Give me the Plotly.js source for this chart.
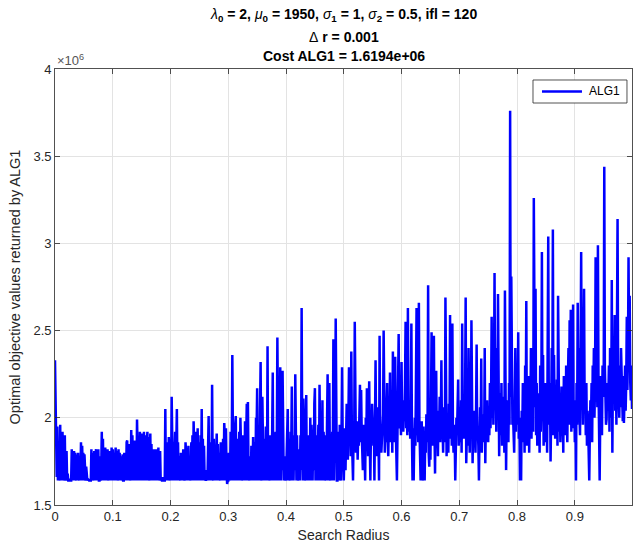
<!DOCTYPE html>
<html>
<head>
<meta charset="utf-8">
<script src="https://cdn.plot.ly/plotly-3.0.1.min.js"></script>
<style>
  html, body { margin: 0; padding: 0; background: #ffffff; }
  #chart { width: 633px; height: 546px; }
</style>
</head>
<body>
<div id="chart"></div>
<script>
// Search radius step
const dr = 0.001;

// Optimal objective values returned by ALG1 (units of 1e6), one per radius step 0.000 ... 0.999
const alg1Values = [
// 0.00
2.33,2.05,1.78,1.66,1.95,1.64,1.80,1.64,1.70,1.96,
1.64,1.88,1.64,1.92,1.75,1.64,1.66,1.90,1.64,1.72,
1.81,1.64,1.68,1.64,1.64,1.65,1.64,1.64,1.64,1.82,
1.64,1.78,1.66,1.81,1.64,1.80,1.70,1.64,1.79,1.64,
1.80,1.67,1.64,1.78,1.64,1.86,1.64,1.84,1.70,1.80,
// 0.05
1.64,1.79,1.66,1.64,1.72,1.64,1.64,1.65,1.64,1.64,
1.64,1.64,1.64,1.82,1.64,1.80,1.70,1.64,1.81,1.64,
1.76,1.82,1.64,1.80,1.66,1.82,1.64,1.64,1.78,1.64,
1.70,1.92,1.64,1.88,1.64,1.75,1.64,1.83,1.66,1.80,
1.64,1.82,1.70,1.64,1.81,1.64,1.78,1.64,1.83,1.66,
// 0.10
1.82,1.64,1.80,1.64,1.76,1.83,1.64,1.81,1.64,1.72,
1.82,1.64,1.80,1.64,1.78,1.64,1.70,1.79,1.64,1.64,
1.80,1.64,1.76,1.64,1.86,1.87,1.64,1.80,1.64,1.85,
1.70,1.64,1.93,1.64,1.90,1.64,1.78,1.66,1.87,1.64,
1.83,1.64,1.99,1.72,1.64,1.88,1.64,1.92,1.68,1.64,
// 0.15
1.91,1.64,1.88,1.64,1.92,1.70,1.64,1.90,1.64,1.86,
1.92,1.64,1.89,1.66,1.64,1.91,1.64,1.85,1.64,1.76,
1.64,1.82,1.64,1.80,1.70,1.82,1.64,1.78,1.64,1.83,
1.64,1.66,1.81,1.64,1.65,1.64,1.64,1.66,1.64,1.64,
1.64,2.05,1.64,1.86,1.66,1.85,1.64,1.89,1.70,1.64,
// 0.20
1.88,1.64,2.12,1.70,1.64,1.86,1.64,1.80,1.92,1.64,
1.84,2.05,1.64,1.86,1.64,1.78,1.70,1.64,1.80,1.64,
1.76,1.64,1.82,1.64,1.72,1.64,1.86,1.80,1.64,1.76,
1.64,1.84,1.64,1.78,1.66,1.64,1.86,1.64,1.90,1.64,
1.98,1.72,1.64,1.92,1.64,1.88,1.66,1.94,1.64,1.84,
// 0.25
1.86,1.64,1.90,1.70,2.05,1.64,1.88,1.64,1.84,1.66,
1.64,1.64,1.65,1.70,1.64,1.92,2.01,1.64,1.86,1.64,
1.80,1.64,2.19,1.72,1.64,1.88,1.64,1.82,1.64,1.78,
1.91,1.64,1.85,1.64,1.80,1.72,1.64,1.86,1.64,1.82,
1.66,1.88,1.64,1.97,1.90,1.64,1.94,1.70,1.62,1.64,
// 0.30
1.64,1.80,1.70,1.64,1.92,1.64,1.80,2.36,1.90,1.64,
1.86,1.64,1.96,2.01,1.64,1.88,1.66,1.80,1.64,1.92,
1.64,2.00,1.84,1.64,1.70,1.90,1.64,1.86,1.64,1.98,
1.64,2.02,2.08,1.64,2.09,1.70,1.64,1.64,1.78,1.64,
1.84,1.72,1.64,1.89,1.64,1.86,1.68,1.64,2.00,1.90,
// 0.35
2.17,1.64,1.90,1.80,1.64,2.05,2.32,1.72,1.64,2.12,
1.64,1.64,1.88,1.70,1.64,1.95,1.84,1.64,2.41,1.64,
1.86,1.70,1.64,1.90,1.64,1.80,1.92,2.26,1.64,1.86,
1.64,1.80,1.92,1.64,1.84,2.46,1.70,1.64,1.90,1.84,
2.29,1.64,1.86,1.70,2.27,1.64,1.64,1.78,1.64,1.66,
// 0.40
1.64,1.84,1.90,2.05,1.64,1.88,1.72,1.64,1.92,1.80,
2.18,1.64,1.90,1.64,1.86,1.70,2.25,2.00,1.64,1.90,
1.64,1.70,1.64,1.82,1.64,1.90,1.70,2.63,1.92,1.64,
2.11,1.86,1.64,1.72,1.90,2.13,1.64,1.80,1.90,1.64,
1.84,1.70,2.00,1.64,1.96,1.84,1.64,1.90,1.70,2.08,
// 0.45
2.17,1.64,1.90,1.86,1.64,1.80,1.96,1.64,2.19,1.88,
1.64,1.84,1.70,2.10,1.64,1.92,1.84,1.64,1.70,1.90,
1.64,1.98,2.25,1.64,1.88,2.20,1.70,1.64,1.86,1.64,
1.92,1.80,2.45,1.64,1.90,1.86,2.57,1.70,1.64,1.64,
1.82,1.92,1.64,1.96,1.70,1.64,1.88,2.29,1.90,1.64,
// 0.50
1.64,1.80,1.94,1.70,1.88,2.08,1.90,1.76,2.00,2.29,
1.84,1.96,1.78,2.38,1.90,1.80,1.64,1.92,1.86,2.55,
1.96,1.80,1.87,1.98,1.76,1.92,1.84,2.04,2.19,1.86,
2.16,1.92,1.80,1.70,1.90,1.96,1.80,1.64,2.00,1.84,
2.17,1.92,1.78,1.96,2.21,1.86,1.64,1.92,1.84,2.08,
// 0.55
1.92,1.86,2.00,1.64,1.96,2.33,1.90,1.78,1.94,2.06,
1.90,1.64,2.47,1.86,1.94,1.80,1.88,1.96,2.02,2.50,
1.90,1.80,1.96,1.86,2.04,2.20,1.88,1.78,1.98,1.92,
2.26,1.86,1.94,2.08,1.80,2.38,1.92,2.00,1.86,2.35,
1.94,1.80,1.64,1.92,2.10,2.48,1.96,1.94,2.02,1.90,
// 0.60
2.32,1.96,2.10,1.92,2.04,1.98,2.20,2.55,1.94,2.06,
1.90,2.63,2.00,1.92,2.10,1.88,1.98,2.54,1.90,1.64,
1.94,1.64,1.88,2.00,1.84,2.10,2.63,1.90,1.96,1.86,
2.66,1.94,1.80,1.64,1.92,1.98,1.64,1.70,1.95,1.64,
1.64,1.90,1.80,2.02,1.86,1.94,2.76,1.80,1.72,2.00,
// 0.65
1.76,2.10,2.49,1.90,1.84,2.00,2.47,1.92,1.68,2.10,
2.27,1.84,1.96,1.78,2.04,1.90,2.12,1.86,2.00,2.33,
1.88,1.96,1.80,2.06,1.94,1.86,2.69,1.92,1.78,2.00,
1.86,1.80,2.08,1.94,2.59,1.88,2.02,1.84,2.54,1.92,
1.80,1.96,1.88,1.64,1.86,2.00,1.90,2.02,2.22,1.84,
// 0.70
1.92,2.06,1.86,2.10,1.80,2.54,1.94,2.00,1.88,1.96,
2.12,2.69,1.74,1.90,2.00,1.84,2.40,1.96,1.80,2.06,
1.88,2.56,1.92,1.74,1.98,1.86,2.04,1.90,1.80,2.02,
2.42,1.88,1.94,1.84,1.64,1.92,2.06,1.86,2.34,1.80,
1.96,1.90,2.02,1.86,2.40,1.74,1.98,1.88,2.10,1.92,
// 0.75
1.86,2.04,1.90,2.20,1.94,2.10,2.58,2.00,2.30,1.96,
2.18,2.83,2.06,2.40,1.92,2.28,2.10,2.71,1.96,1.78,
2.14,2.02,1.90,2.20,1.84,2.06,1.94,2.12,1.80,2.73,
1.98,1.70,2.04,1.92,2.10,1.86,2.20,1.96,3.76,2.12,
2.81,2.30,1.96,2.02,1.84,1.80,2.10,2.40,1.92,2.26,
// 0.80
1.96,2.10,2.49,1.88,2.00,1.64,1.90,1.64,2.04,1.86,
2.20,1.94,2.10,1.80,2.30,2.00,2.67,1.84,2.06,1.92,
2.24,1.80,2.10,1.96,2.40,1.88,2.16,2.00,1.92,3.26,
2.30,2.06,2.74,1.90,2.20,1.84,2.02,1.96,2.14,1.80,
2.30,1.92,2.10,2.95,1.98,2.36,1.84,2.06,1.94,2.20,
// 0.85
1.86,2.10,1.80,2.30,3.04,2.04,1.96,2.20,1.75,2.00,
2.40,2.12,3.08,1.90,2.36,2.02,1.88,2.14,1.96,2.22,
1.84,2.70,2.06,1.92,2.10,1.86,2.00,2.18,1.94,2.08,
1.80,2.24,1.98,2.12,1.90,2.30,2.02,1.86,2.20,2.40,
1.96,2.56,2.10,2.62,1.92,2.30,2.08,2.65,1.94,2.10,
// 0.90
1.86,2.04,1.64,2.20,1.96,2.66,2.10,2.40,2.02,1.90,
2.36,2.95,2.10,2.24,1.96,2.30,2.74,2.06,2.16,1.90,
2.20,1.84,2.04,1.96,1.80,1.64,1.92,2.10,1.98,2.20,
1.86,2.30,2.06,2.40,2.00,2.20,2.92,2.16,2.30,2.06,
2.99,2.20,1.92,1.64,2.00,2.24,2.10,1.90,2.30,2.12,
// 0.95
2.20,3.44,2.30,2.10,1.96,1.99,2.20,2.04,2.10,2.30,
1.92,2.40,2.16,2.00,2.79,1.80,2.30,2.10,2.20,2.59,
2.04,2.30,1.96,2.40,3.14,2.20,2.10,2.00,2.30,2.06,
2.40,2.20,2.16,1.98,2.24,1.97,2.10,2.30,2.04,2.20,
2.58,2.16,2.36,2.92,2.40,2.70,2.20,2.10,2.30,2.05
];

const searchRadius = alg1Values.map((_, i) => Math.round(i * 1000 * dr) / 1000);

const xTickVals = [0, 0.1, 0.2, 0.3, 0.4, 0.5, 0.6, 0.7, 0.8, 0.9];
const xTickText = ['0', '0.1', '0.2', '0.3', '0.4', '0.5', '0.6', '0.7', '0.8', '0.9'];
const yTickVals = [1.5, 2, 2.5, 3, 3.5, 4];
const yTickText = ['1.5', '2', '2.5', '3', '3.5', '4'];
const seriesName = 'ALG1';

const FONT = 'Liberation Sans, Arial, Helvetica, sans-serif';
const INK = '#262626';
const BLUE = '#0000ff';
const g = s => '<span style="font-weight:normal"><i>' + s + '</i></span>';

const trace = {
  x: searchRadius,
  y: alg1Values,
  type: 'scatter',
  mode: 'lines',
  name: seriesName,
  showlegend: false,
  line: { color: BLUE, width: 2.5 }
};

// legend box geometry (paper fractions)
const LG = { x0: 0.8284, x1: 0.9913, y0: 0.9220, y1: 0.9748, lx0: 0.8440, lx1: 0.9133, tx: 0.9220 };
const lyMid = (LG.y0 + LG.y1) / 2;

const layout = {
  width: 633,
  height: 546,
  margin: { l: 55, r: 1, t: 69, b: 41 },
  paper_bgcolor: '#ffffff',
  plot_bgcolor: '#ffffff',
  font: { family: FONT, size: 13, color: INK },
  showlegend: false,
  xaxis: {
    range: [0, 0.999],
    tickmode: 'array', tickvals: xTickVals, ticktext: xTickText,
    ticks: 'inside', ticklen: 5, tickcolor: INK, tickwidth: 0.8,
    showline: true, linecolor: INK, linewidth: 0.8, mirror: 'ticks',
    showgrid: true, gridcolor: '#e3e3e3', gridwidth: 1,
    zeroline: false,
    tickfont: { family: FONT, size: 13, color: INK },
    title: { text: 'Search Radius', font: { family: FONT, size: 14, color: INK }, standoff: 6 }
  },
  yaxis: {
    range: [1.5, 4],
    tickmode: 'array', tickvals: yTickVals, ticktext: yTickText,
    ticks: 'inside', ticklen: 5, tickcolor: INK, tickwidth: 0.8,
    showline: true, linecolor: INK, linewidth: 0.8, mirror: 'ticks',
    showgrid: true, gridcolor: '#e3e3e3', gridwidth: 1,
    zeroline: false,
    tickfont: { family: FONT, size: 13, color: INK },
    title: { text: 'Optimal objective values returned by ALG1', font: { family: FONT, size: 14.5, color: INK }, standoff: 9 }
  },
  shapes: [
    { type: 'rect', xref: 'paper', yref: 'paper', x0: LG.x0, x1: LG.x1, y0: LG.y0, y1: LG.y1,
      line: { color: INK, width: 0.8 }, fillcolor: '#ffffff', layer: 'above' },
    { type: 'line', xref: 'paper', yref: 'paper', x0: LG.lx0, x1: LG.lx1, y0: lyMid, y1: lyMid,
      line: { color: BLUE, width: 2.5 }, layer: 'above' }
  ],
  annotations: [
    {
      xref: 'paper', yref: 'paper', x: 0.5, y: 1, xanchor: 'center', yanchor: 'bottom',
      yshift: 43, showarrow: false,
      text: g('λ') + '<sub>0</sub> = 2, ' + g('μ') + '<sub>0</sub> = 1950, ' + g('σ') + '<sub>1</sub> = 1, ' + g('σ') + '<sub>2</sub> = 0.5, ifl = 120',
      font: { family: FONT, size: 14, color: '#000000', weight: 'bold' }
    },
    {
      xref: 'paper', yref: 'paper', x: 0.5, y: 1, xanchor: 'center', yanchor: 'bottom',
      yshift: 22, showarrow: false,
      text: '<span style="font-weight:normal">Δ</span> r = 0.001',
      font: { family: FONT, size: 14, color: '#000000', weight: 'bold' }
    },
    {
      xref: 'paper', yref: 'paper', x: 0.5, y: 1, xanchor: 'center', yanchor: 'bottom',
      yshift: 3, showarrow: false,
      text: 'Cost ALG1 = 1.6194e+06',
      font: { family: FONT, size: 14, color: '#000000', weight: 'bold' }
    },
    {
      xref: 'paper', yref: 'paper', x: 0, y: 1, xanchor: 'left', yanchor: 'bottom',
      xshift: 0, yshift: -1, showarrow: false,
      text: '×10<sup>6</sup>',
      font: { family: FONT, size: 13, color: '#555555' }
    },
    {
      xref: 'paper', yref: 'paper', x: LG.tx, y: lyMid, xanchor: 'left', yanchor: 'middle',
      showarrow: false, text: seriesName,
      font: { family: FONT, size: 12, color: '#000000' }
    }
  ]
};

Plotly.newPlot('chart', [trace], layout, { displayModeBar: false, staticPlot: true });
</script>
</body>
</html>
